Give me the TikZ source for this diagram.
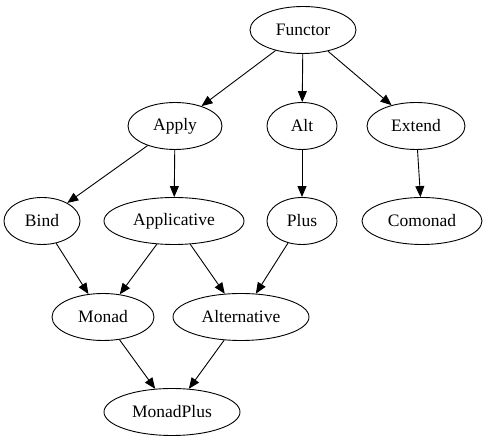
\documentclass[tikz,border=0pt]{standalone}
\usepackage{fontspec}
\setmainfont{Liberation Serif}
\usetikzlibrary{shapes.geometric,arrows.meta}
\begin{document}
\begin{tikzpicture}[x=1pt,y=1pt,
  nd/.style={draw,ellipse,line width=0.9pt,inner sep=0pt,minimum height=47pt,font=\fontsize{17.5pt}{20pt}\selectfont},
  edge/.style={draw,line width=0.9pt,-{Triangle[length=11pt,width=9pt]}}]
\useasboundingbox (0,0) rectangle (489,443);
\node[nd,minimum width=106pt] (functor) at (303,413) {Functor};
\node[nd,minimum width=94pt] (apply) at (175,317) {Apply};
\node[nd,minimum width=70pt] (alt) at (302,317) {Alt};
\node[nd,minimum width=98pt] (extend) at (416,317) {Extend};
\node[nd,minimum width=76pt] (bind) at (42,222) {Bind};
\node[nd,minimum width=140pt] (applicative) at (174,222) {Applicative};
\node[nd,minimum width=70pt] (plus) at (302,222) {Plus};
\node[nd,minimum width=120pt] (comonad) at (422,222) {Comonad};
\node[nd,minimum width=102pt] (monad) at (103,126) {Monad};
\node[nd,minimum width=136pt] (alternative) at (241,126) {Alternative};
\node[nd,minimum width=136pt] (monadplus) at (172,31) {MonadPlus};
\draw[edge] (functor) -- (apply);
\draw[edge] (functor) -- (alt);
\draw[edge] (functor) -- (extend);
\draw[edge] (apply) -- (bind);
\draw[edge] (apply) -- (applicative);
\draw[edge] (alt) -- (plus);
\draw[edge] (extend) -- (comonad);
\draw[edge] (bind) -- (monad);
\draw[edge] (applicative) -- (monad);
\draw[edge] (applicative) -- (alternative);
\draw[edge] (plus) -- (alternative);
\draw[edge] (monad) -- (monadplus);
\draw[edge] (alternative) -- (monadplus);
\end{tikzpicture}
\end{document}
